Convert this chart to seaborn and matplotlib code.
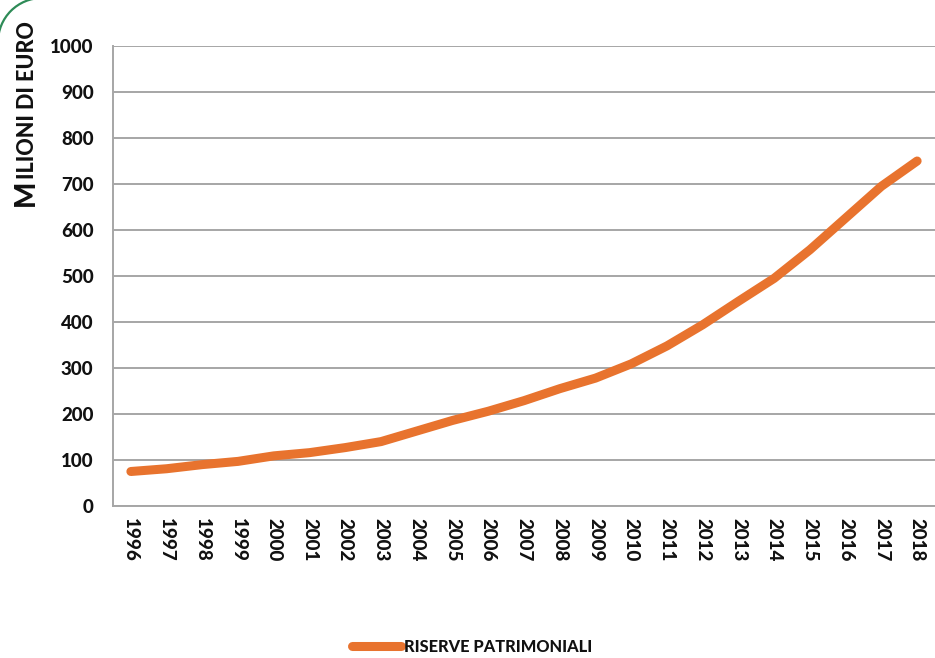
import matplotlib
matplotlib.use("Agg")
import matplotlib.pyplot as plt
from matplotlib.patches import Arc
from matplotlib.lines import Line2D
import seaborn as sns
import pandas as pd

years = list(range(1996, 2019))
riserve = [75, 81, 90, 97, 109, 116, 127, 140, 163, 186, 206, 229,
           255, 278, 309, 348, 394, 445, 495, 557, 626, 695, 750]
y_ticks = [0, 100, 200, 300, 400, 500, 600, 700, 800, 900, 1000]
series_name = "RISERVE PATRIMONIALI"
ylabel_first = "M"
ylabel_rest = "ILIONI DI EURO"

sns.set_theme(style="white")
plt.rcParams["font.family"] = ["Lato", "DejaVu Sans"]

ORANGE = "#E8732E"
GRID = "#A6A6A6"
TXT = "#111111"
WT = 900

W, H, DPI = 935, 658, 100
fig = plt.figure(figsize=(W / DPI, H / DPI), dpi=DPI)
fig.patch.set_facecolor("white")
ax = fig.add_axes([113 / W, 1 - 506 / H, 1 - 113 / W, (506 - 46) / H])

df = pd.DataFrame({"year": years, "value": riserve})
sns.lineplot(data=df, x="year", y="value", ax=ax, color=ORANGE, lw=6.5,
             solid_capstyle="round", solid_joinstyle="round", legend=False)

ax.set_xlim(years[0] - 0.5, years[-1] + 0.5)
ax.set_ylim(0, 1000)
ax.set_yticks(y_ticks)
ax.set_yticklabels([str(v) for v in y_ticks], fontsize=13.5, fontweight=WT)
ax.set_xticks(years)
ax.set_xticklabels([str(y) for y in years], rotation=-90, fontsize=13.5,
                   fontweight=WT, va="top", ha="center")
ax.set_xticks([y - 0.5 for y in years] + [years[-1] + 0.5], minor=True)
ax.tick_params(axis="x", which="major", length=0, pad=9)
ax.tick_params(axis="x", which="minor", length=6, width=1.2, color=GRID, direction="out")
ax.tick_params(axis="y", which="major", length=6, width=1.2, color=GRID, direction="out", pad=8)
ax.tick_params(which="major", labelcolor=TXT)
ax.yaxis.grid(True, color=GRID, lw=1.4)
ax.xaxis.grid(False)
ax.set_axisbelow(True)
for s in ["top", "right"]:
    ax.spines[s].set_visible(False)
for s in ["left", "bottom"]:
    ax.spines[s].set_color(GRID)
    ax.spines[s].set_linewidth(1.4)
ax.set_xlabel("")
ax.set_ylabel("")

# y label in small-caps style
fig.canvas.draw()
r = fig.canvas.get_renderer()
x0 = 34 / W
y0 = 1 - 206 / H
t1 = fig.text(x0, y0, ylabel_first, rotation=90, rotation_mode="anchor",
              ha="left", va="baseline", fontsize=20, fontweight=WT, color=TXT)
bb = t1.get_window_extent(r)
t2 = fig.text(x0, (bb.y1 + 1) / H, ylabel_rest, rotation=90, rotation_mode="anchor",
              ha="left", va="baseline", fontsize=15.5, fontweight=WT, color=TXT)

# legend
handle = Line2D([], [], color=ORANGE, lw=6.5, solid_capstyle="round")
fig.legend([handle], [series_name], loc="center", bbox_to_anchor=(0.505, 1 - 647 / H),
           frameon=False, handlelength=3.0, handletextpad=0.15,
           prop={"weight": WT, "size": 11.8}, labelcolor=TXT)

# decorative rounded frame corner
arc = Arc((42, H - 42), 88, 88, theta1=90, theta2=180, transform=None,
          color="#2E8B57", lw=1.6)
fig.patches.append(arc)

fig.savefig("out.png", dpi=DPI, facecolor="white")
